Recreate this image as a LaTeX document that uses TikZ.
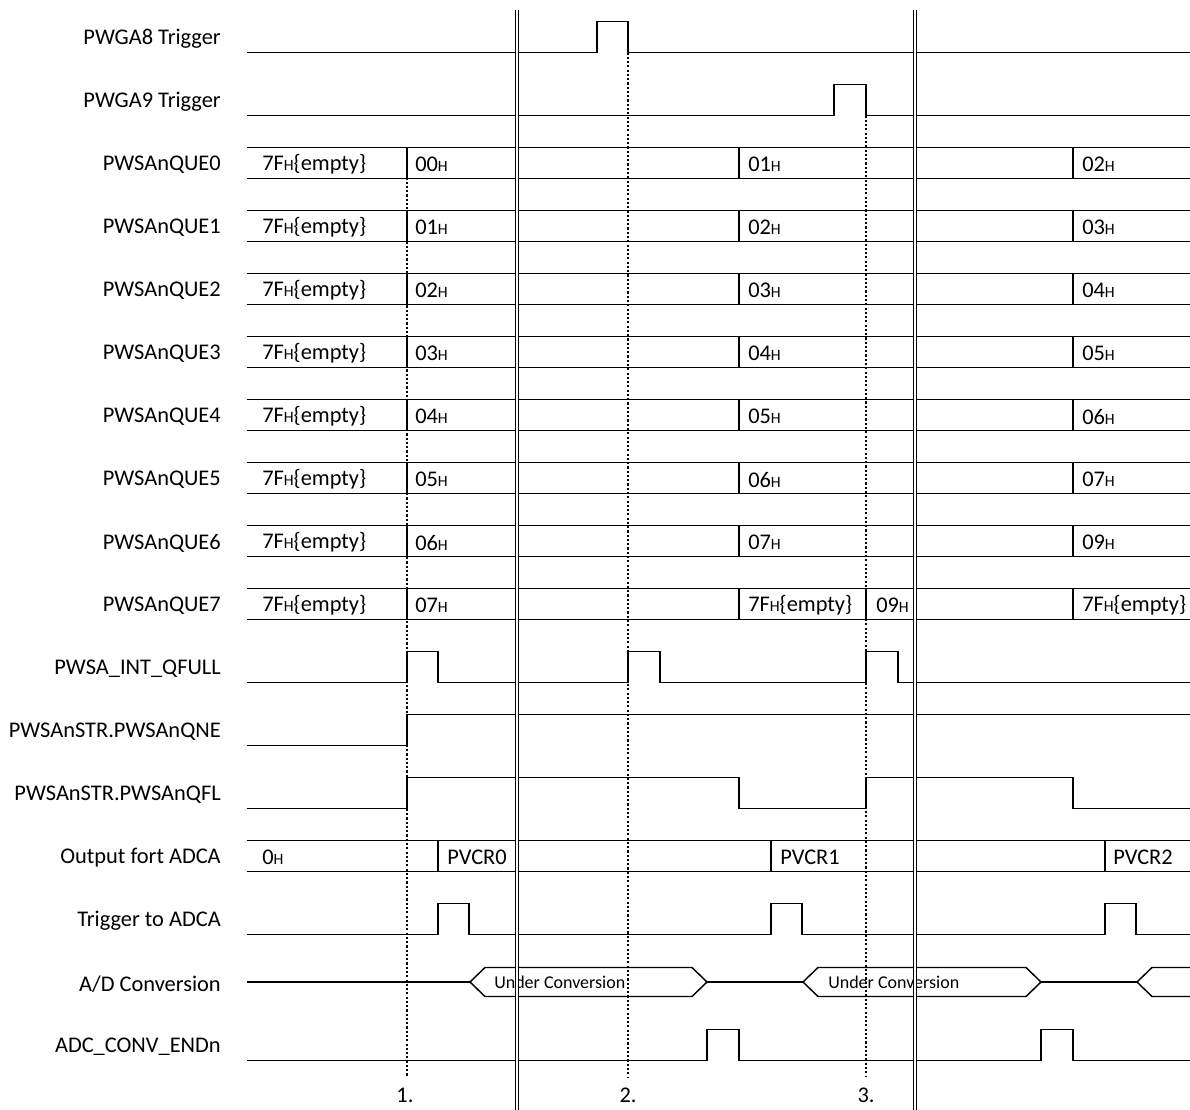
\documentclass[tikz,border=0pt]{standalone}
\usepackage{fontspec}
\setmainfont{Carlito}
\newcommand{\hsub}{{\fontsize{11.8}{13}\selectfont H}}
\begin{document}
\begin{tikzpicture}[x=0.75pt,y=-0.75pt,
  sig/.style={line width=1.1pt,line join=miter},
  lbl/.style={anchor=east,inner sep=0pt,yshift=-1.5pt,font=\fontsize{16.8}{20}\selectfont},
  val/.style={anchor=west,inner sep=0pt,yshift=-1.2pt,font=\fontsize{16.8}{20}\selectfont},
  conv/.style={anchor=west,inner sep=0pt,font=\fontsize{13.5}{16}\selectfont},
  marker/.style={line width=0.8pt,dash pattern=on 1.6pt off 1.6pt},
  sep/.style={line width=0.9pt,double,double distance=1.3pt}]
\useasboundingbox (0,0) rectangle (1190,1110);

% row labels
\foreach \i/\t in {0/{PWGA8 Trigger},1/{PWGA9 Trigger},2/{PWSAnQUE0},3/{PWSAnQUE1},4/{PWSAnQUE2},5/{PWSAnQUE3},6/{PWSAnQUE4},7/{PWSAnQUE5},8/{PWSAnQUE6},9/{PWSAnQUE7},10/{PWSA\_INT\_QFULL},11/{PWSAnSTR.PWSAnQNE},12/{PWSAnSTR.PWSAnQFL},13/{Output fort ADCA},14/{Trigger to ADCA},15/{A/D Conversion},16/{ADC\_CONV\_ENDn}}
  \node[lbl] (lab\i) at (221,{37+63*\i}) {\t};

% PWGA8 Trigger
\draw[sig] (247,52.5) -- (597,52.5) -- (597,21.5) -- (628,21.5) -- (628,52.5) -- (1190,52.5);
% PWGA9 Trigger
\draw[sig] (247,115.5) -- (834,115.5) -- (834,84.5) -- (866,84.5) -- (866,115.5) -- (1190,115.5);

% queue buses
\foreach \i/\a/\b/\c in {2/00/01/02,3/01/02/03,4/02/03/04,5/03/04/05,6/04/05/06,7/05/06/07,8/06/07/09}{
  \pgfmathsetmacro{\yc}{37+63*\i}
  \draw[sig] (247,{\yc-15.5}) -- (1190,{\yc-15.5}) (247,{\yc+15.5}) -- (1190,{\yc+15.5});
  \draw[sig] (407,{\yc-15.5}) -- (407,{\yc+15.5}) (739,{\yc-15.5}) -- (739,{\yc+15.5}) (1073,{\yc-15.5}) -- (1073,{\yc+15.5});
  \node[val] (q\i a) at (262,\yc) {7F\hsub\{empty\}};
  \node[val] (q\i b) at (415,\yc) {\a\hsub};
  \node[val] (q\i c) at (748,\yc) {\b\hsub};
  \node[val] (q\i d) at (1082,\yc) {\c\hsub};
}
% PWSAnQUE7
\draw[sig] (247,588.5) -- (1190,588.5) (247,619.5) -- (1190,619.5);
\draw[sig] (407,588.5) -- (407,619.5) (739,588.5) -- (739,619.5) (866,588.5) -- (866,619.5) (1073,588.5) -- (1073,619.5);
\node[val] (q9a) at (262,604) {7F\hsub\{empty\}};
\node[val] (q9b) at (415,604) {07\hsub};
\node[val] (q9c) at (748,604) {7F\hsub\{empty\}};
\node[val] (q9d) at (876,604) {09\hsub};
\node[val] (q9e) at (1082,604) {7F\hsub\{empty\}};

% PWSA_INT_QFULL
\draw[sig] (247,682.5) -- (407,682.5) -- (407,651.5) -- (438,651.5) -- (438,682.5) -- (628,682.5) -- (628,651.5) -- (660,651.5) -- (660,682.5) -- (866,682.5) -- (866,651.5) -- (898,651.5) -- (898,682.5) -- (1190,682.5);
% QNE
\draw[sig] (247,745.5) -- (407,745.5) -- (407,714.5) -- (1190,714.5);
% QFL
\draw[sig] (247,808.5) -- (407,808.5) -- (407,777.5) -- (739,777.5) -- (739,808.5) -- (866,808.5) -- (866,777.5) -- (1073,777.5) -- (1073,808.5) -- (1190,808.5);

% Output fort ADCA
\draw[sig] (247,840.5) -- (1190,840.5) (247,871.5) -- (1190,871.5);
\draw[sig] (438,840.5) -- (438,871.5) (771,840.5) -- (771,871.5) (1105,840.5) -- (1105,871.5);
\node[val] (o0) at (262,856) {0\hsub};
\node[val] (o1) at (447,856) {PVCR0};
\node[val] (o2) at (780,856) {PVCR1};
\node[val] (o3) at (1113,856) {PVCR2};

% Trigger to ADCA
\draw[sig] (247,934.5) -- (438,934.5) -- (438,903.5) -- (469,903.5) -- (469,934.5) -- (771,934.5) -- (771,903.5) -- (802,903.5) -- (802,934.5) -- (1105,934.5) -- (1105,903.5) -- (1136,903.5) -- (1136,934.5) -- (1190,934.5);

% A/D Conversion
\draw[sig] (247,982) -- (470,982);
\draw[sig] (470,982) -- (485,967.5) -- (692,967.5) -- (707,982) -- (692,996.5) -- (485,996.5) -- cycle;
\draw[sig] (707,982) -- (803,982);
\draw[sig] (803,982) -- (818,967.5) -- (1026,967.5) -- (1041,982) -- (1026,996.5) -- (818,996.5) -- cycle;
\draw[sig] (1041,982) -- (1137,982);
\draw[sig] (1190,967.5) -- (1152,967.5) -- (1137,982) -- (1152,996.5) -- (1190,996.5);
\node[conv] (uc1) at (494,982) {Under Conversion};
\node[conv] (uc2) at (828,982) {Under Conversion};

% ADC_CONV_ENDn
\draw[sig] (247,1060.5) -- (707,1060.5) -- (707,1029.5) -- (739,1029.5) -- (739,1060.5) -- (1041,1060.5) -- (1041,1029.5) -- (1073,1029.5) -- (1073,1060.5) -- (1190,1060.5);

% event markers
\draw[marker] (407,147.5) -- (407,1077);
\draw[marker] (628,52.5) -- (628,1077);
\draw[marker] (866,115.5) -- (866,1077);
\node[val,anchor=center] (m1) at (405,1094) {1.};
\node[val,anchor=center] (m2) at (628,1094) {2.};
\node[val,anchor=center] (m3) at (866,1094) {3.};

% time break lines
\draw[sep] (517,10) -- (517,1110);
\draw[sep] (915,10) -- (915,1110);
\end{tikzpicture}
\end{document}
